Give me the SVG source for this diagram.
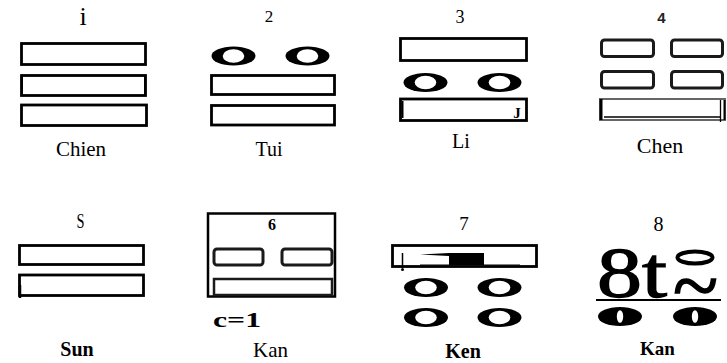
<svg xmlns="http://www.w3.org/2000/svg" width="727" height="363" viewBox="0 0 727 363">
<style>
.bar{fill:#fff;stroke:#000;stroke-width:2.8}
.rbar{fill:#fff;stroke:#1a1a1a;stroke-width:3}
.t{font-family:"Liberation Serif","Times New Roman",serif;fill:#000}
.b{font-weight:bold}
.s{font-family:"Liberation Sans",Arial,sans-serif;font-weight:bold;fill:#222}
</style>
<defs>
<g id="yin">
<ellipse cx="0" cy="0" rx="22" ry="9.5" fill="#000"/>
<ellipse cx="0" cy="0" rx="10.8" ry="6.8" fill="#fff"/>
</g>
<g id="zero">
<ellipse cx="0" cy="0" rx="22" ry="9.5" fill="#000"/>
<ellipse cx="0" cy="0" rx="3.2" ry="6.3" fill="#fff"/>
</g>
</defs>
<g id="connectors"/>
<g id="n1">
<text class="t" x="83" y="25" font-size="26" text-anchor="middle">i</text>
<rect class="bar" x="21.5" y="43.5" width="124" height="21"/>
<rect class="bar" x="21.5" y="75.5" width="124" height="20"/>
<rect class="bar" x="21.5" y="105" width="125" height="20.5"/>
<line x1="22" y1="76" x2="22" y2="95" stroke="#000" stroke-width="2"/>
<line x1="145" y1="76" x2="145" y2="95" stroke="#000" stroke-width="2"/>
<text class="t" x="81" y="156" font-size="21" text-anchor="middle">Chien</text>
</g>
<g id="n2">
<text class="t" x="269" y="22" font-size="17" text-anchor="middle">2</text>
<use href="#yin" x="233.5" y="56"/>
<use href="#yin" x="307.5" y="56"/>
<rect class="bar" x="211.5" y="75.5" width="123" height="19"/>
<rect class="bar" x="211.5" y="105.5" width="123" height="19.5"/>
<text class="t" x="269" y="156" font-size="20" text-anchor="middle">Tui</text>
</g>
<g id="n3">
<text class="t" x="460" y="23" font-size="18" text-anchor="middle">3</text>
<rect class="bar" x="400.5" y="38.5" width="126" height="22"/>
<use href="#yin" x="425.5" y="82.5"/>
<use href="#yin" x="499.5" y="82.5"/>
<rect class="bar" x="400.5" y="99" width="126" height="21.5"/>
<line x1="402.5" y1="101" x2="402.5" y2="118" stroke="#000" stroke-width="2"/>
<text class="t b" x="517" y="118" font-size="15" text-anchor="middle">J</text>
<text class="t" x="461" y="148" font-size="20" text-anchor="middle">Li</text>
</g>
<g id="n4">
<text class="s" x="661.5" y="23" font-size="15" text-anchor="middle">4</text>
<rect class="rbar" x="601.5" y="40" width="52" height="16.5" rx="3"/>
<rect class="rbar" x="671.5" y="40" width="51" height="16.5" rx="3"/>
<rect class="rbar" x="601.5" y="71.5" width="52" height="16.5" rx="3"/>
<rect class="rbar" x="671.5" y="71.5" width="51" height="16.5" rx="3"/>
<rect x="600" y="99" width="125" height="21" fill="#fff" stroke="#666" stroke-width="2"/>
<line x1="601" y1="99" x2="601" y2="120" stroke="#000" stroke-width="3"/>
<line x1="604" y1="117" x2="720" y2="117" stroke="#000" stroke-width="1.3"/>
<line x1="720.5" y1="100" x2="720.5" y2="122" stroke="#000" stroke-width="1.3"/>
<line x1="724.5" y1="100" x2="724.5" y2="120" stroke="#000" stroke-width="2"/>
<text class="t" x="660" y="153" font-size="22" text-anchor="middle">Chen</text>
</g>
<g id="n5">
<text class="t" x="76.5" y="228" font-size="20" textLength="8" lengthAdjust="spacingAndGlyphs">S</text>
<rect class="bar" x="19.5" y="245.5" width="124" height="19"/>
<rect class="bar" x="19.5" y="275" width="124" height="20.5"/>
<line x1="20" y1="285" x2="20" y2="298" stroke="#000" stroke-width="2.5"/>
<text class="t b" x="77" y="356" font-size="20" text-anchor="middle">Sun</text>
</g>
<g id="n6">
<rect x="208" y="213.5" width="127" height="83" fill="#fff" stroke="#000" stroke-width="2.5"/>
<text class="t b" x="272" y="230" font-size="16" text-anchor="middle">6</text>
<rect class="rbar" x="214" y="249" width="49" height="16" rx="3"/>
<rect class="rbar" x="282" y="249" width="50" height="16" rx="3"/>
<rect x="214" y="279" width="118" height="16" fill="#fff" stroke="#1a1a1a" stroke-width="2.5"/>
<text class="t b" x="213" y="327" font-size="21" textLength="48" lengthAdjust="spacingAndGlyphs">c=1</text>
<text class="t" x="270.5" y="357" font-size="21" text-anchor="middle">Kan</text>
</g>
<g id="n7">
<text class="t" x="464" y="230" font-size="19" text-anchor="middle">7</text>
<rect class="bar" x="392.5" y="245.5" width="144" height="21"/>
<rect x="449" y="253" width="35" height="12" fill="#000"/>
<polygon points="420,254.5 449,253 449,256" fill="#000"/>
<line x1="420" y1="265" x2="520" y2="265" stroke="#000" stroke-width="1"/>
<line x1="402.5" y1="253" x2="402.5" y2="268" stroke="#000" stroke-width="1.5"/>
<circle cx="402.5" cy="269.5" r="1.5" fill="#000"/>
<use href="#yin" x="426" y="287.5"/>
<use href="#yin" x="499.5" y="287.5"/>
<use href="#yin" x="426" y="317.5"/>
<use href="#yin" x="499.5" y="317.5"/>
<text class="t b" x="463" y="358" font-size="20" text-anchor="middle">Ken</text>
</g>
<g id="n8">
<text class="t" x="658.5" y="231" font-size="20" text-anchor="middle">8</text>
<text class="t" x="597" y="297" font-size="72" textLength="70" lengthAdjust="spacingAndGlyphs" stroke="#000" stroke-width="1.3">8t</text>
<ellipse cx="695" cy="257.5" rx="17.5" ry="6" fill="none" stroke="#000" stroke-width="4"/>
<text class="t" x="673" y="313" font-size="80" textLength="45" lengthAdjust="spacingAndGlyphs" stroke="#000" stroke-width="1.5">~</text>
<line x1="596" y1="300" x2="721" y2="300" stroke="#000" stroke-width="2"/>
<use href="#zero" x="620" y="316.5"/>
<use href="#zero" x="695" y="316.5"/>
<text class="t b" x="657.5" y="355" font-size="19" text-anchor="middle">Kan</text>
</g>
</svg>
